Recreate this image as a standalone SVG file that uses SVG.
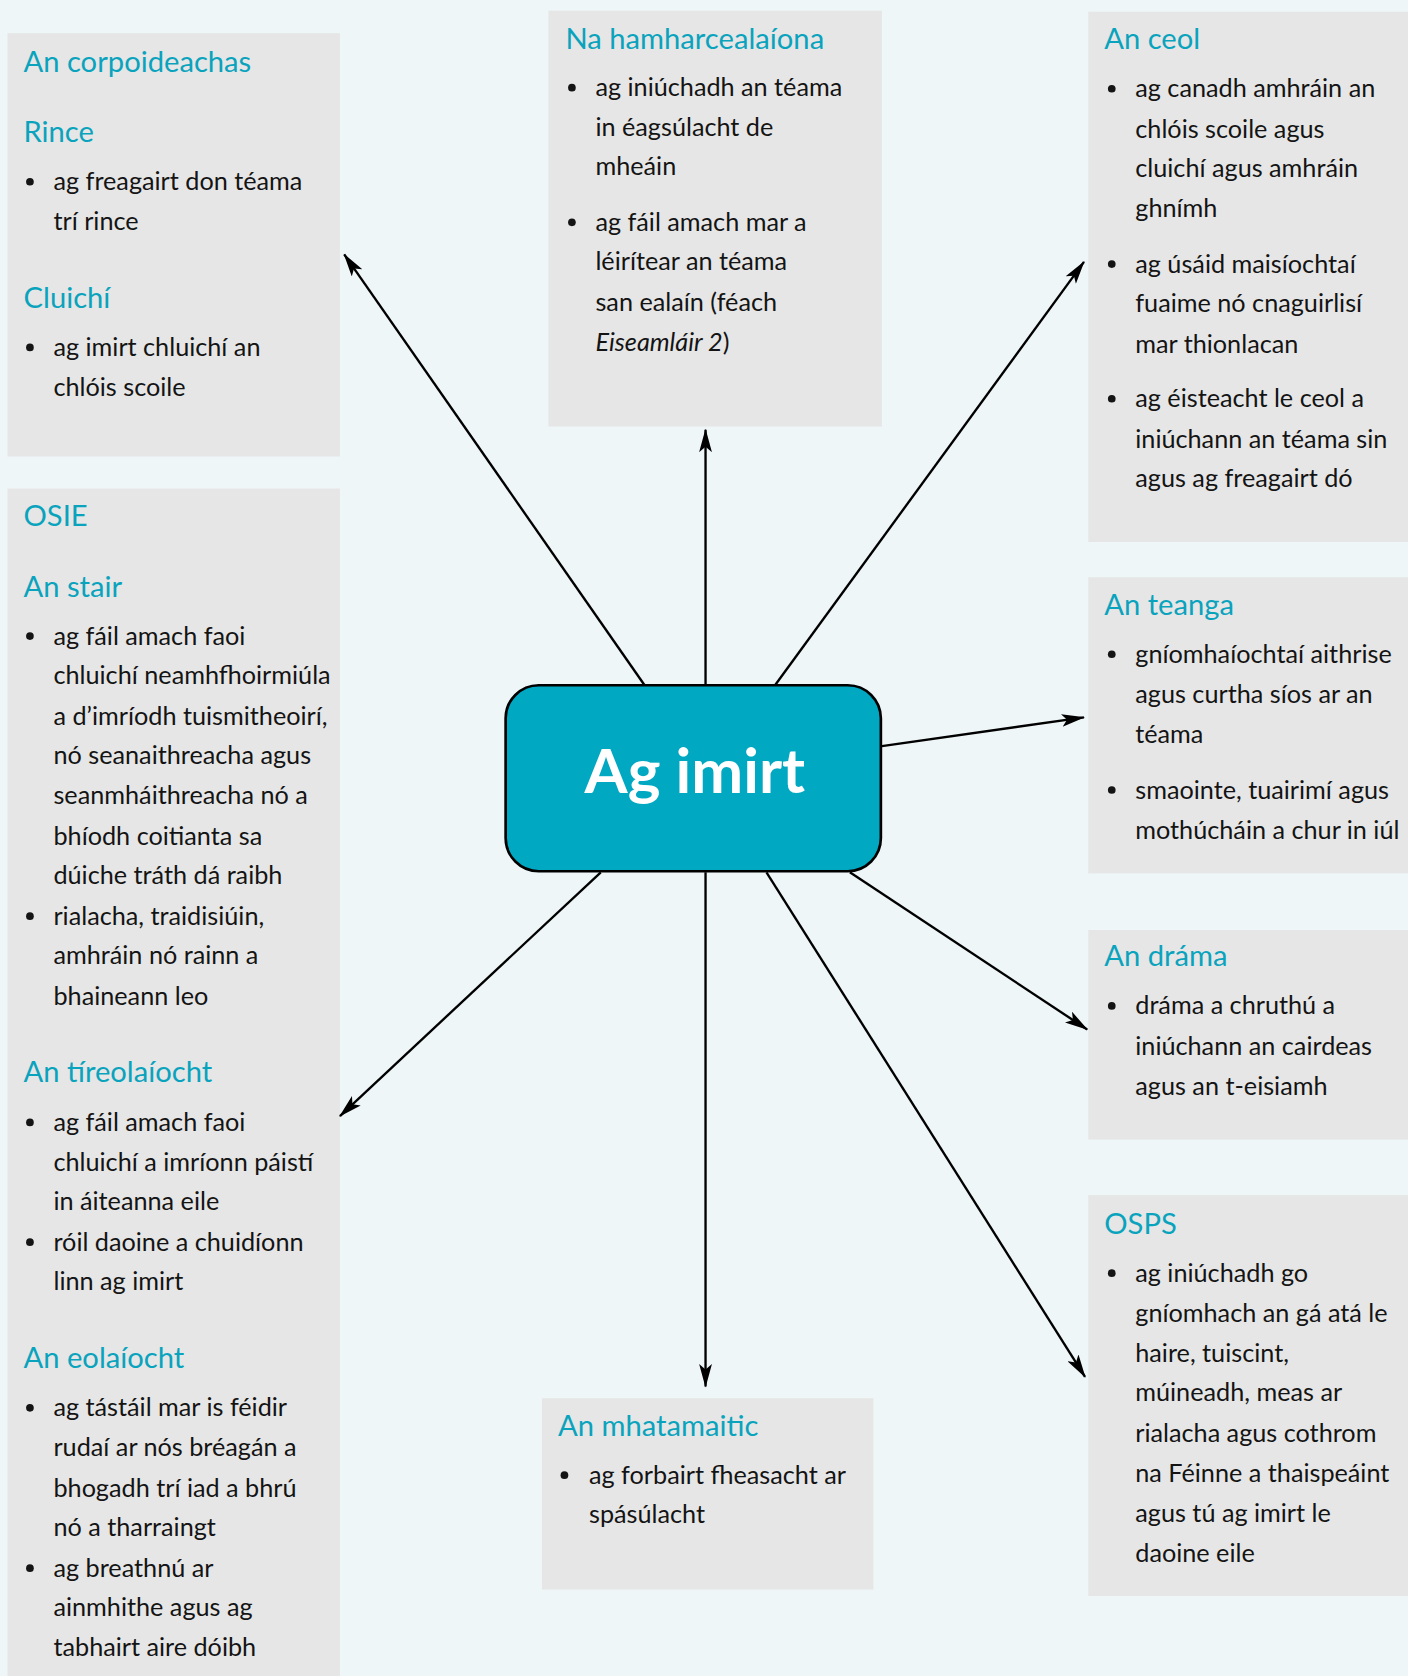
<svg xmlns="http://www.w3.org/2000/svg" width="1408" height="1676" viewBox="0 0 1408 1676">
<defs>
<style>
.bg{fill:#eef6f8}
.box{fill:#e6e6e6}
.t{font-family:Lato,"Open Sans",sans-serif;font-size:27.3px;fill:#0aa3bd}
.b{font-family:Lato,"Open Sans",sans-serif;font-size:23.6px;fill:#141414}
.dot{fill:#141414}
.conn line{stroke:#000;stroke-width:2.2;fill:none}
.hub{fill:#00a8c2;stroke:#000;stroke-width:2.5}
.hubt{font-family:Lato,"Open Sans",sans-serif;font-size:58px;font-weight:bold;fill:#fff}
</style>
<marker id="ah" viewBox="0 0 22 12" refX="21" refY="6" markerWidth="22" markerHeight="12" markerUnits="userSpaceOnUse" orient="auto">
<path d="M0,0 L22,6 L0,12 L5,6 Z" fill="#000"/>
</marker>
</defs>
<rect class="bg" x="0" y="0" width="1408" height="1676"/>
<g transform="scale(1.069)">
<g id="corpoideachas">
<rect class="box" x="7" y="31" width="311" height="396"/>
<text class="t" x="22" y="67">An corpoideachas</text>
<text class="t" x="22" y="133">Rince</text>
<circle class="dot" cx="28" cy="170" r="3.6"/>
<text class="b" x="50" y="178">ag freagairt don téama</text>
<text class="b" x="50" y="215">trí rince</text>
<text class="t" x="22" y="288">Cluichí</text>
<circle class="dot" cx="28" cy="325" r="3.6"/>
<text class="b" x="50" y="333">ag imirt chluichí an</text>
<text class="b" x="50" y="370">chlóis scoile</text>
</g>
<g id="osie">
<rect class="box" x="7" y="457" width="311" height="1112"/>
<text class="t" x="22" y="492">OSIE</text>
<text class="t" x="22" y="558">An stair</text>
<circle class="dot" cx="28" cy="595" r="3.6"/>
<text class="b" x="50" y="603">ag fáil amach faoi</text>
<text class="b" x="50" y="640">chluichí neamhfhoirmiúla</text>
<text class="b" x="50" y="678">a d’imríodh tuismitheoirí,</text>
<text class="b" x="50" y="715">nó seanaithreacha agus</text>
<text class="b" x="50" y="752">seanmháithreacha nó a</text>
<text class="b" x="50" y="790">bhíodh coitianta sa</text>
<text class="b" x="50" y="827">dúiche tráth dá raibh</text>
<circle class="dot" cx="28" cy="857" r="3.6"/>
<text class="b" x="50" y="865">rialacha, traidisiúin,</text>
<text class="b" x="50" y="902">amhráin nó rainn a</text>
<text class="b" x="50" y="940">bhaineann leo</text>
<text class="t" x="22" y="1012">An tíreolaíocht</text>
<circle class="dot" cx="28" cy="1050" r="3.6"/>
<text class="b" x="50" y="1058">ag fáil amach faoi</text>
<text class="b" x="50" y="1095">chluichí a imríonn páistí</text>
<text class="b" x="50" y="1132">in áiteanna eile</text>
<circle class="dot" cx="28" cy="1162" r="3.6"/>
<text class="b" x="50" y="1170">róil daoine a chuidíonn</text>
<text class="b" x="50" y="1207">linn ag imirt</text>
<text class="t" x="22" y="1280">An eolaíocht</text>
<circle class="dot" cx="28" cy="1317" r="3.6"/>
<text class="b" x="50" y="1325">ag tástáil mar is féidir</text>
<text class="b" x="50" y="1362">rudaí ar nós bréagán a</text>
<text class="b" x="50" y="1400">bhogadh trí iad a bhrú</text>
<text class="b" x="50" y="1437">nó a tharraingt</text>
<circle class="dot" cx="28" cy="1467" r="3.6"/>
<text class="b" x="50" y="1475">ag breathnú ar</text>
<text class="b" x="50" y="1512">ainmhithe agus ag</text>
<text class="b" x="50" y="1549">tabhairt aire dóibh</text>
</g>
<g id="amharcealaiona">
<rect class="box" x="513" y="10" width="312" height="389"/>
<text class="t" x="529" y="46">Na hamharcealaíona</text>
<circle class="dot" cx="535" cy="82" r="3.6"/>
<text class="b" x="557" y="90">ag iniúchadh an téama</text>
<text class="b" x="557" y="127">in éagsúlacht de</text>
<text class="b" x="557" y="164">mheáin</text>
<circle class="dot" cx="535" cy="208" r="3.6"/>
<text class="b" x="557" y="216">ag fáil amach mar a</text>
<text class="b" x="557" y="253">léirítear an téama</text>
<text class="b" x="557" y="291">san ealaín (féach</text>
<text class="b" x="557" y="328"><tspan font-style="italic">Eiseamláir 2</tspan>)</text>
</g>
<g id="ceol">
<rect class="box" x="1018" y="11" width="300" height="496"/>
<text class="t" x="1033" y="46">An ceol</text>
<circle class="dot" cx="1040" cy="83" r="3.6"/>
<text class="b" x="1062" y="91">ag canadh amhráin an</text>
<text class="b" x="1062" y="129">chlóis scoile agus</text>
<text class="b" x="1062" y="166">cluichí agus amhráin</text>
<text class="b" x="1062" y="203">ghnímh</text>
<circle class="dot" cx="1040" cy="247" r="3.6"/>
<text class="b" x="1062" y="255">ag úsáid maisíochtaí</text>
<text class="b" x="1062" y="292">fuaime nó cnaguirlisí</text>
<text class="b" x="1062" y="330">mar thionlacan</text>
<circle class="dot" cx="1040" cy="373" r="3.6"/>
<text class="b" x="1062" y="381">ag éisteacht le ceol a</text>
<text class="b" x="1062" y="419">iniúchann an téama sin</text>
<text class="b" x="1062" y="456">agus ag freagairt dó</text>
</g>
<g id="teanga">
<rect class="box" x="1018" y="540" width="300" height="277"/>
<text class="t" x="1033" y="575">An teanga</text>
<circle class="dot" cx="1040" cy="612" r="3.6"/>
<text class="b" x="1062" y="620">gníomhaíochtaí aithrise</text>
<text class="b" x="1062" y="658">agus curtha síos ar an</text>
<text class="b" x="1062" y="695">téama</text>
<circle class="dot" cx="1040" cy="739" r="3.6"/>
<text class="b" x="1062" y="747">smaointe, tuairimí agus</text>
<text class="b" x="1062" y="785">mothúcháin a chur in iúl</text>
</g>
<g id="drama">
<rect class="box" x="1018" y="870" width="300" height="196"/>
<text class="t" x="1033" y="904">An dráma</text>
<circle class="dot" cx="1040" cy="941" r="3.6"/>
<text class="b" x="1062" y="949">dráma a chruthú a</text>
<text class="b" x="1062" y="987">iniúchann an cairdeas</text>
<text class="b" x="1062" y="1024">agus an t-eisiamh</text>
</g>
<g id="osps">
<rect class="box" x="1018" y="1118" width="300" height="375"/>
<text class="t" x="1033" y="1154">OSPS</text>
<circle class="dot" cx="1040" cy="1191" r="3.6"/>
<text class="b" x="1062" y="1199">ag iniúchadh go</text>
<text class="b" x="1062" y="1237">gníomhach an gá atá le</text>
<text class="b" x="1062" y="1274">haire, tuiscint,</text>
<text class="b" x="1062" y="1311">múineadh, meas ar</text>
<text class="b" x="1062" y="1349">rialacha agus cothrom</text>
<text class="b" x="1062" y="1386">na Féinne a thaispeáint</text>
<text class="b" x="1062" y="1424">agus tú ag imirt le</text>
<text class="b" x="1062" y="1461">daoine eile</text>
</g>
<g id="mhatamaitic">
<rect class="box" x="507" y="1308" width="310" height="179"/>
<text class="t" x="522" y="1343">An mhatamaitic</text>
<circle class="dot" cx="528" cy="1380" r="3.6"/>
<text class="b" x="551" y="1388">ag forbairt fheasacht ar</text>
<text class="b" x="551" y="1425">spásúlacht</text>
</g>
<g id="connectors" class="conn">
<line x1="603" y1="641" x2="322" y2="238" marker-end="url(#ah)"/>
<line x1="660" y1="641" x2="660" y2="402" marker-end="url(#ah)"/>
<line x1="725" y1="641" x2="1014" y2="245" marker-end="url(#ah)"/>
<line x1="825" y1="698" x2="1014" y2="671" marker-end="url(#ah)"/>
<line x1="795" y1="816" x2="1017" y2="963" marker-end="url(#ah)"/>
<line x1="717" y1="816" x2="1015" y2="1288" marker-end="url(#ah)"/>
<line x1="660" y1="816" x2="660" y2="1297" marker-end="url(#ah)"/>
<line x1="562" y1="816" x2="318" y2="1044" marker-end="url(#ah)"/>
</g>
<g id="hub">
<rect class="hub" x="473" y="641" width="351" height="174" rx="31" ry="31"/>
<text class="hubt" x="650" y="742" text-anchor="middle">Ag imirt</text>
</g>
</g>
</svg>
